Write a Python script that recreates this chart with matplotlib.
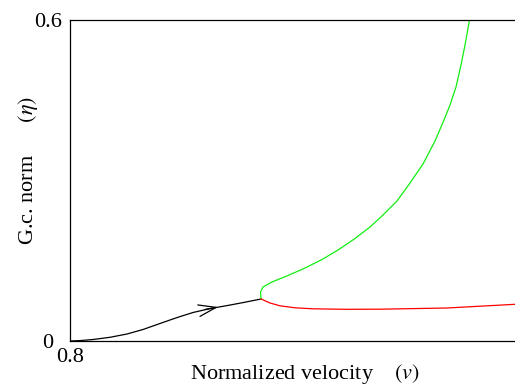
import matplotlib
matplotlib.use("Agg")
import matplotlib.pyplot as plt

plt.rcParams["font.family"] = ["Liberation Serif", "DejaVu Serif"]
plt.rcParams["mathtext.fontset"] = "stix"

# Stable branch before the bifurcation
black_v = [0.80000, 0.80444, 0.81022, 0.81778, 0.82533, 0.83244, 0.84000,
           0.84444, 0.84889, 0.85467, 0.86222, 0.86978, 0.87689, 0.88489]
black_eta = [0.00000, 0.00075, 0.00280, 0.00692, 0.01308, 0.02149, 0.03271,
             0.03925, 0.04561, 0.05327, 0.06056, 0.06617, 0.07178, 0.07850]

# Direction marker on the stable branch (tail, head)
arrow_v = [0.86000, 0.86578]
arrow_eta = [0.05888, 0.06355]

# Upper branch
green_v = [0.88489, 0.88467, 0.88578, 0.88978, 0.89689, 0.90444, 0.91200, 0.91911,
           0.92667, 0.93333, 0.93911, 0.94533, 0.95111, 0.95689, 0.96222, 0.96622,
           0.96889, 0.97156, 0.97378, 0.97556, 0.97756]
green_eta = [0.0785, 0.0916, 0.1009, 0.1103, 0.1224, 0.1364, 0.1523, 0.1701,
             0.1916, 0.2131, 0.2355, 0.2617, 0.2953, 0.3308, 0.3738, 0.4131,
             0.4411, 0.4748, 0.5159, 0.5533, 0.6000]

# Lower branch
red_v = [0.88489, 0.88889, 0.89333, 0.90000, 0.90800, 0.92222, 0.93778,
         0.96756, 0.99778, 1.00000]
red_eta = [0.07850, 0.07103, 0.06579, 0.06206, 0.06019, 0.05925, 0.05944,
           0.06168, 0.06860, 0.06916]

x_ticks = [0.8, 1.0]
x_ticklabels = ["0.8", "1"]
y_ticks = [0.0, 0.6]
y_ticklabels = ["0", "0.6"]

W, H = 515, 385
fig = plt.figure(figsize=(W / 100, H / 100), dpi=100)
left, right, top, bottom = 70, 520, 20, 341
ax = fig.add_axes([left / W, 1 - bottom / H, (right - left) / W, (bottom - top) / H])

lw = 0.9
ax.plot(black_v, black_eta, color="black", lw=lw)
ax.plot(green_v, green_eta, color="#11ee11", lw=lw)
ax.plot(red_v, red_eta, color="#ff0000", lw=lw)

ax.annotate("", xy=(arrow_v[1], arrow_eta[1]), xytext=(arrow_v[0], arrow_eta[0]),
            arrowprops=dict(arrowstyle="->,head_length=0.9,head_width=0.3", lw=lw,
                            color="black", mutation_scale=14, shrinkA=0, shrinkB=0))

ax.set_xlim(0.8, 1.0)
ax.set_ylim(0.0, 0.6)
ax.set_xticks(x_ticks)
ax.set_xticklabels(x_ticklabels)
ax.set_yticks(y_ticks)
ax.set_yticklabels(y_ticklabels)
ax.tick_params(length=0, labelsize=16)
ax.tick_params(axis="x", pad=5)
ax.tick_params(axis="y", pad=16)
for lab in ax.get_yticklabels():
    lab.set_horizontalalignment("center")
for s in ax.spines.values():
    s.set_linewidth(0.9)

ax.set_xlabel(r"Normalized velocity    $(v)$", fontsize=16)
ax.xaxis.set_label_coords((305 - left) / (right - left), -0.064)
ax.set_ylabel(r"G.c. norm      $(\eta)$", fontsize=16)
ax.yaxis.set_label_coords(-(left - 40) / (right - left), 0.53)

fig.savefig("out.png", dpi=100)
